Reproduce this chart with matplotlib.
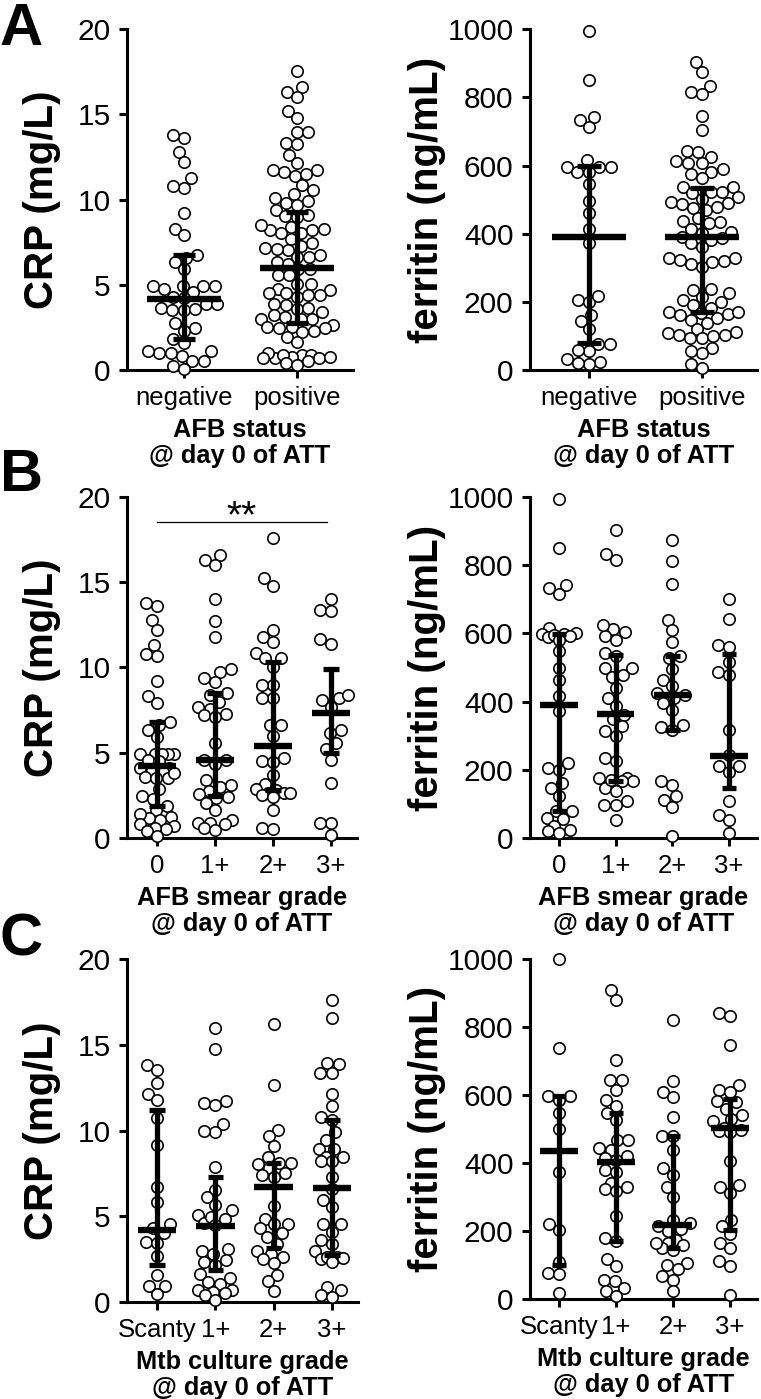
import numpy as np
import matplotlib
matplotlib.use("Agg")
import matplotlib.pyplot as plt

plt.rcParams['font.family'] = ['Liberation Sans', 'DejaVu Sans']

# ---- data ----
afb_status = ["negative", "positive"]
smear_grade = ["0", "1+", "2+", "3+"]
culture_grade = ["Scanty", "1+", "2+", "3+"]

# A : CRP / ferritin by AFB status
crp_afb_neg = [13.6, 13.8, 12.8, 12.2, 11.25, 10.7, 10.8, 9.2, 8.3, 7.9, 6.75, 6.6, 6.35, 5.9,
               4.95, 4.95, 4.75, 4.6, 4.95, 4.95, 4.3, 4.2, 3.9, 3.9, 3.65, 3.5, 3.5, 3.6, 2.75,
               2.45, 2.3, 1.8, 1.6, 1.1, 1.0, 0.98, 1.1, 0.8, 0.5, 0.25, 0.55, 0.04]
crp_afb_pos = [17.55, 16.6, 16.3, 16.0, 15.2, 14.8, 13.95, 13.95, 13.35, 13.25, 12.65, 12.15,
               11.75, 11.65, 11.4, 11.5, 11.75, 10.85, 10.55, 10.35, 10.1, 9.95, 9.8, 9.7, 9.4,
               9.1, 9.0, 9.05, 8.4, 8.2, 8.05, 7.7, 8.05, 8.2, 8.3, 8.5, 7.45, 7.15, 7.05, 6.65,
               6.65, 6.75, 7.1, 7.3, 6.25, 5.95, 5.95, 6.35, 5.55, 5.55, 5.05, 5.05, 4.7, 4.75,
               4.4, 4.3, 4.5, 4.5, 4.4, 3.8, 3.9, 3.6, 3.65, 3.4, 3.2, 3.1, 3.0, 3.0, 2.97, 2.65,
               2.55, 2.45, 2.3, 2.25, 2.45, 2.5, 1.95, 1.65, 0.88, 0.78, 0.68, 0.88, 1.0, 0.68,
               0.68, 0.78, 0.88, 0.5, 0.43, 0.3]
fer_afb_neg = [996, 851, 744, 734, 714, 615, 597, 582, 597, 582, 597, 546, 497, 462, 413, 372,
               204, 199, 218, 161, 145, 120, 75, 75, 56, 59, 32, 24, 17, 20]
fer_afb_pos = [905, 876, 834, 817, 810, 746, 703, 644, 639, 626, 614, 607, 607, 582, 589, 575,
               563, 538, 538, 523, 520, 523, 507, 502, 494, 486, 489, 475, 470, 479, 445, 435,
               438, 430, 413, 403, 406, 391, 382, 386, 372, 360, 328, 321, 328, 303, 318, 323,
               310, 237, 235, 215, 225, 205, 191, 201, 181, 171, 166, 164, 160, 171, 147, 152,
               137, 119, 110, 103, 103, 112, 93, 100, 93, 66, 51, 56, 17, 7]

# B : by AFB smear grade
crp_smear = [
    [13.6, 13.8, 12.8, 12.2, 11.3, 10.65, 10.8, 9.2, 8.35, 7.9, 6.8, 6.6, 6.35, 5.9, 4.95, 4.95,
     4.95, 4.95, 4.95, 4.6, 4.5, 4.1, 4.1, 4.0, 3.9, 3.6, 3.5, 3.5, 3.8, 2.85, 2.45, 2.3, 1.85,
     1.65, 1.25, 1.07, 1.17, 1.4, 0.8, 0.68, 0.55, 0.6, 0.4, 0.1],
    [16.6, 16.3, 16.0, 14.0, 12.7, 11.8, 9.9, 9.75, 9.4, 9.15, 8.5, 8.4, 8.0, 7.55, 7.7, 7.25,
     7.2, 7.1, 5.6, 4.6, 4.6, 4.35, 3.4, 3.0, 3.1, 2.75, 2.6, 2.35, 2.4, 2.05, 1.65, 1.07, 0.9,
     0.8, 0.9, 0.6, 0.45],
    [17.6, 15.25, 14.8, 11.8, 12.2, 11.5, 10.85, 10.55, 10.55, 10.05, 9.0, 9.0, 8.2, 8.2, 6.65,
     6.65, 6.0, 4.5, 4.45, 4.7, 3.7, 3.15, 2.9, 2.8, 2.65, 2.65, 2.55, 2.65, 2.4, 1.65, 0.6, 0.5],
    [14.0, 13.4, 13.3, 11.65, 11.4, 8.2, 8.4, 8.1, 7.7, 6.35, 6.15, 5.55, 5.2, 4.6, 3.2, 0.9,
     0.9, 0.2],
]
fer_smear = [
    [995, 850, 741, 733, 715, 616, 598, 598, 590, 595, 600, 592, 582, 547, 499, 464, 415, 373,
     205, 200, 220, 161, 147, 122, 80, 78, 59, 56, 34, 24, 20, 15],
    [904, 816, 834, 613, 591, 582, 603, 626, 543, 535, 499, 479, 500, 472, 440, 411, 386, 362,
     350, 329, 313, 300, 235, 225, 176, 166, 176, 166, 147, 137, 108, 98, 98, 54, 170],
    [875, 811, 746, 640, 609, 575, 528, 533, 496, 464, 445, 420, 425, 410, 396, 376, 332, 325,
     318, 166, 156, 122, 112, 90, 5],
    [701, 643, 565, 560, 516, 486, 479, 318, 244, 210, 210, 193, 108, 68, 54, 15],
]

# C : by Mtb culture grade
crp_culture = [
    [13.8, 13.5, 12.75, 12.15, 11.75, 10.7, 9.15, 6.7, 5.85, 4.55, 4.3, 4.0, 3.5, 3.45, 2.7,
     1.55, 0.92, 0.92, 0.45],
    [16.0, 14.75, 11.6, 11.5, 11.7, 10.4, 9.9, 9.95, 7.9, 6.55, 6.1, 5.65, 5.35, 5.05, 4.85,
     4.6, 4.95, 4.5, 3.1, 3.0, 2.8, 2.35, 2.45, 2.15, 1.65, 1.4, 1.17, 1.07, 0.68, 0.58, 0.68,
     0.5, 0.39, 0.1],
    [16.2, 12.65, 10.05, 9.7, 9.1, 8.45, 8.1, 8.1, 8.05, 7.8, 7.5, 7.4, 7.3, 5.6, 4.85, 4.55,
     4.55, 4.3, 4.0, 3.8, 3.4, 3.0, 2.8, 2.65, 2.5, 2.25, 1.6, 1.2, 0.62],
    [17.6, 16.55, 13.9, 13.95, 13.35, 13.35, 12.15, 11.4, 10.8, 10.6, 9.9, 9.45, 8.95, 8.95,
     8.45, 8.45, 8.25, 8.2, 7.3, 6.6, 5.95, 5.55, 4.55, 4.55, 4.1, 3.6, 3.4, 2.95, 2.65, 2.55,
     2.5, 2.6, 2.35, 0.88, 0.68, 0.4, 0.3],
]
fer_culture = [
    [1000, 738, 596, 586, 596, 547, 500, 373, 221, 204, 109, 76, 74, 18],
    [908, 878, 704, 645, 645, 616, 584, 567, 547, 527, 469, 469, 444, 439, 420, 410, 415, 380,
     375, 341, 324, 319, 330, 243, 179, 172, 119, 98, 57, 54, 32, 23, 8],
    [820, 640, 608, 593, 535, 480, 478, 439, 385, 366, 329, 300, 233, 224, 215, 206, 199, 175,
     165, 160, 150, 145, 165, 101, 106, 88, 69, 57, 23],
    [841, 831, 748, 628, 616, 609, 581, 560, 578, 540, 530, 523, 503, 498, 493, 490, 405, 334,
     328, 312, 233, 214, 191, 165, 150, 111, 98, 13],
]

# median, lower quartile, upper quartile per group
crp_afb_stats = [(4.19, 1.8, 6.75), (5.97, 2.74, 9.3)]
fer_afb_stats = [(391, 78, 599), (391, 171, 535)]
crp_smear_stats = [(4.24, 1.86, 6.78), (4.55, 2.48, 8.5), (5.38, 2.83, 10.35), (7.33, 4.98, 9.9)]
fer_smear_stats = [(391, 78, 598), (365, 166, 538), (420, 318, 535), (240, 147, 540)]
crp_culture_stats = [(4.19, 2.14, 11.2), (4.42, 1.85, 7.3), (6.72, 3.15, 8.1), (6.62, 2.73, 10.6)]
fer_culture_stats = [(436, 101, 596), (402, 172, 547), (219, 150, 478), (503, 204, 588)]


W, H = 761, 1399
fig = plt.figure(figsize=(W / 100, H / 100), dpi=100)


def add_ax(l, r, b, t):
    return fig.add_axes([l / W, 1 - b / H, (r - l) / W, (b - t) / H])


# swarm layout in pixel space, offsets clamped to maxw
def swarm(ax, xc, vals, diam, maxw):
    pix = ax.transData.transform(np.column_stack([np.full(len(vals), xc), vals]))
    x0 = pix[0, 0]
    ys = pix[:, 1]
    offs = np.zeros(len(vals))
    placed = []
    for i in np.argsort(ys):
        y = ys[i]
        near = [(px, py) for px, py in placed if abs(py - y) < diam]
        cands = [0.0]
        for px, py in near:
            dx = np.sqrt(diam ** 2 - (py - y) ** 2)
            cands += [px + dx, px - dx]
        cands = sorted(cands, key=lambda c: (abs(c), c))
        best = None
        for c in cands:
            if abs(c) > maxw:
                break
            if all((c - px) ** 2 + (y - py) ** 2 >= diam ** 2 - 0.01 for px, py in near):
                best = c
                break
        if best is None:
            grid = np.linspace(-maxw, maxw, 31)
            score = [min(np.hypot(g - px, y - py) for px, py in near) - 0.01 * abs(g) for g in grid]
            best = grid[int(np.argmax(score))]
        offs[i] = best
        placed.append((best, y))
    back = ax.transData.inverted().transform(np.column_stack([x0 + offs, ys]))
    return back[:, 0]


def panel(ax, groups, stats, cats, xlim, ymax, ystep, ylabel, xlabel, cap, maxw, ylab_x):
    ax.set_xlim(*xlim)
    ax.set_ylim(0, ymax)
    for s in ["top", "right"]:
        ax.spines[s].set_visible(False)
    for s in ["left", "bottom"]:
        ax.spines[s].set_linewidth(2.2)
    ax.set_yticks(np.arange(0, ymax + 1, ystep))
    ax.set_xticks(range(len(cats)))
    ax.set_xticklabels(cats)
    ax.tick_params(axis="both", direction="out", length=5.8, width=2.2)
    ax.tick_params(axis="y", labelsize=21.5, pad=6)
    ax.tick_params(axis="x", labelsize=18.5, pad=6)

    for k, vals in enumerate(groups):
        xs = swarm(ax, k, vals, 11.5, maxw)
        ax.plot(xs, vals, "o", ms=8.2, mfc="white", mec="black", mew=1.2,
                clip_on=False, zorder=3)
        med, q1, q3 = stats[k]
        kw = dict(color="black", lw=3.8, zorder=4, solid_capstyle="butt")
        ax.plot([k, k], [q1, q3], **kw)
        ax.plot([k - cap, k + cap], [q1, q1], **kw)
        ax.plot([k - cap, k + cap], [q3, q3], **kw)
        ax.plot([k - 0.33, k + 0.33], [med, med], color="black", lw=4.6, zorder=4,
                solid_capstyle="butt")

    ax.text(ylab_x, 0.5, ylabel, transform=ax.transAxes, rotation=90, ha="center",
            va="center", fontsize=29, fontweight="bold")
    ax.set_xlabel(xlabel, fontsize=18.3, fontweight="bold", linespacing=1.08, va="top")
    hpx = ax.get_position().height * H
    ax.xaxis.set_label_coords(0.5, -48 / hpx)


crp_lab = "CRP (mg/L)"
fer_lab = "ferritin (ng/mL)"

axA1 = add_ax(127, 353, 370, 29.3)
panel(axA1, [crp_afb_neg, crp_afb_pos], crp_afb_stats, afb_status, (-0.504, 1.496), 20, 5,
      crp_lab, "AFB status\n@ day 0 of ATT", 0.10, 36, -0.376)
axA2 = add_ax(530, 757, 370, 29.3)
panel(axA2, [fer_afb_neg, fer_afb_pos], fer_afb_stats, afb_status, (-0.522, 1.487), 1000, 200,
      fer_lab, "AFB status\n@ day 0 of ATT", 0.11, 36, -0.454)

axB1 = add_ax(127, 357, 838, 497)
panel(axB1, crp_smear, crp_smear_stats, smear_grade, (-0.517, 3.448), 20, 5,
      crp_lab, "AFB smear grade\n@ day 0 of ATT", 0.13, 17, -0.37)
axB2 = add_ax(530, 757, 838, 497)
panel(axB2, fer_smear, fer_smear_stats, smear_grade, (-0.512, 3.494), 1000, 200,
      fer_lab, "AFB smear grade\n@ day 0 of ATT", 0.13, 17, -0.454)

axC1 = add_ax(127, 358, 1302, 959)
panel(axC1, crp_culture, crp_culture_stats, culture_grade, (-0.514, 3.446), 20, 5,
      crp_lab, "Mtb culture grade\n@ day 0 of ATT", 0.13, 17, -0.37)
axC2 = add_ax(530, 757, 1299, 959)
panel(axC2, fer_culture, fer_culture_stats, culture_grade, (-0.509, 3.474), 1000, 200,
      fer_lab, "Mtb culture grade\n@ day 0 of ATT", 0.13, 17, -0.454)

# significance bar smear grade 0 vs 3+
axB1.plot([0, 2.93], [18.53, 18.53], color="black", lw=0.9, clip_on=False)
axB1.text(1.46, 18.2, "**", ha="center", va="baseline", fontsize=28)

# panel letters
for letter, top in [("A", 2), ("B", 448), ("C", 912)]:
    fig.text(0.0, 1 - top / H, letter, ha="left", va="top", fontsize=43, fontweight="bold")

fig.savefig("out.png", dpi=100)
